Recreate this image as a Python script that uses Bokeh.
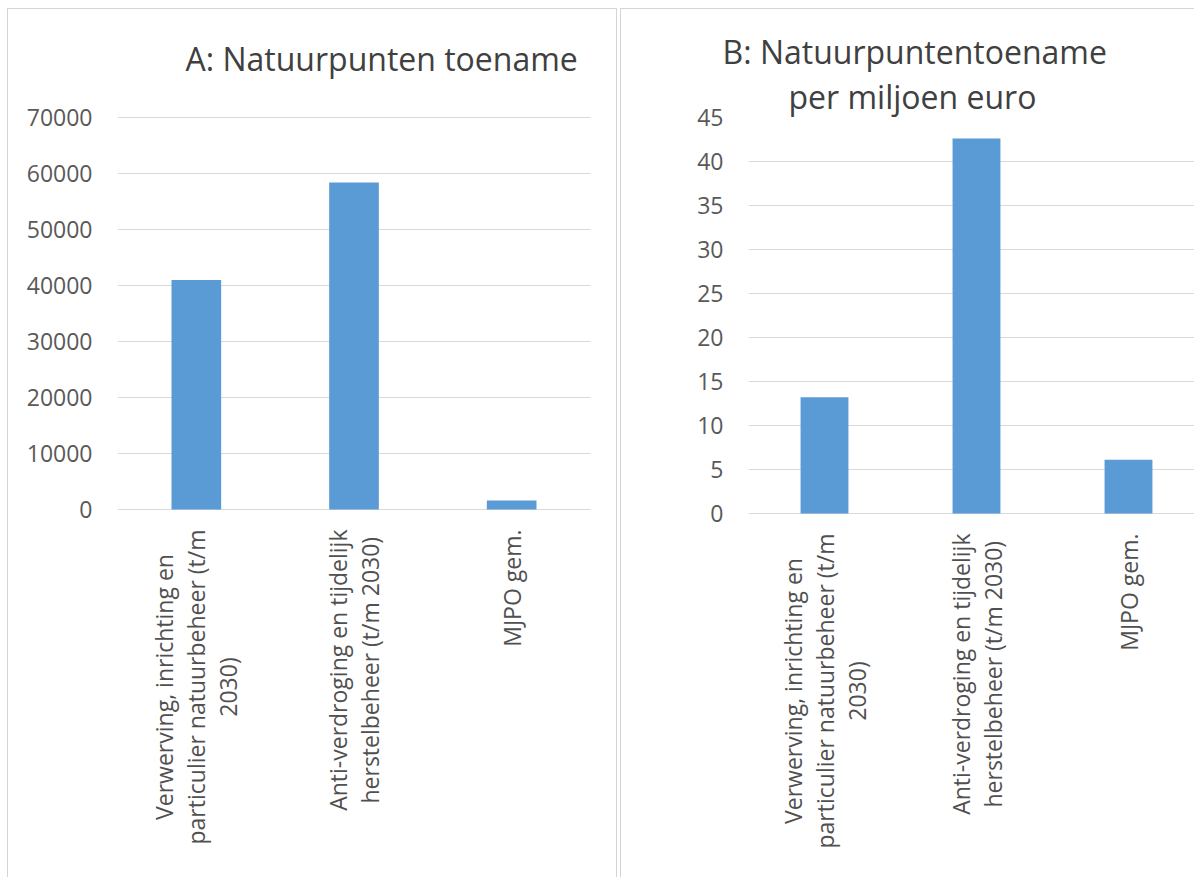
import numpy as np
from bokeh.plotting import figure
from bokeh.models import Range1d, FixedTicker, Title
from bokeh.layouts import row
from bokeh.core.properties import value
from bokeh.embed import file_html
from bokeh.resources import INLINE

# ---------------- data ----------------
categories = [
    "Verwerving, inrichting en\nparticulier natuurbeheer (t/m\n2030)",
    "Anti-verdroging en tijdelijk\nherstelbeheer (t/m 2030)",
    "MJPO gem.",
]
toename = [41000, 58400, 1600]            # A: Natuurpunten toename
per_miljoen = [13.2, 42.6, 6.1]           # B: per miljoen euro
ticks_a = [0, 10000, 20000, 30000, 40000, 50000, 60000, 70000]
ticks_b = [0, 5, 10, 15, 20, 25, 30, 35, 40, 45]
title_a = ["A: Natuurpunten toename"]
title_b = ["B: Natuurpuntentoename", "per miljoen euro"]

# ---------------- style ----------------
FONT = "Open Sans"
BAR = "#5B9BD5"
GRID = "#D9D9D9"
TICK = "#595959"
LABEL = "#505050"
TITLE = "#404040"
BORDER = "1px solid #D4D4D4"
H = 869


def panel(width, left, right, top, head_px, plot_h, ticks, cat_w, values, styles):
    # head_px: empty pixels of the frame above the highest tick
    ymax = ticks[-1]
    frame_h = H - top
    frame_w = width - left - right
    per_px = ymax / plot_h
    y_end = ymax + head_px * per_px
    y_start = y_end - frame_h * per_px
    xs = [i + 0.5 for i in range(len(categories))]
    p = figure(width=width, height=H, output_backend="svg", toolbar_location=None,
               title=None, x_axis_location=None, frame_align=False,
               x_range=Range1d(0, frame_w / cat_w), y_range=Range1d(y_start, y_end),
               min_border=0, min_border_left=left, min_border_right=right,
               min_border_top=top, min_border_bottom=0,
               background_fill_color="white", border_fill_color="white",
               outline_line_color=None, styles=styles)
    p.vbar(x=xs, top=values, width=0.315, fill_color=BAR, line_color=None)
    p.text(x=xs, y=[0] * len(xs), text=categories, angle=np.pi / 2,
           anchor=value("center_right"), text_align="center", text_baseline="middle",
           y_offset=20, text_font=value(FONT), text_font_size="23px",
           text_color=LABEL, text_line_height=1.0)
    ax = p.yaxis[0]
    ax.ticker = FixedTicker(ticks=ticks)
    ax.axis_line_color = None
    ax.major_tick_line_color = None
    ax.minor_tick_line_color = None
    ax.major_tick_out = 0
    ax.major_tick_in = 0
    ax.major_label_standoff = 25
    ax.major_label_text_font = FONT
    ax.major_label_text_font_size = "23px"
    ax.major_label_text_color = TICK
    p.ygrid.grid_line_color = GRID
    p.ygrid.grid_line_width = 1
    p.xgrid.visible = False
    return p


def add_titles(p, lines, offsets, standoffs):
    # the first line given is the one farthest from the plot
    for text, off, st in reversed(list(zip(lines, offsets, standoffs))):
        p.add_layout(Title(text=text, align="left", offset=off, standoff=st,
                           text_font=FONT, text_font_size="32px",
                           text_font_style="normal", text_color=TITLE), "above")


pa = panel(610, 109, 28, 90, 18, 392, ticks_a, 473 / 3, toename,
           {"border-left": BORDER, "border-top": BORDER, "border-right": BORDER})
add_titles(pa, title_a, [68], [40])

pb = panel(574, 127, 0, 108, 0, 396, ticks_b, 152, per_miljoen,
           {"border-left": BORDER, "border-top": BORDER})
add_titles(pb, title_b, [-26, 40], [0, 0])

layout = row(pa, pb, spacing=3, styles={"margin-left": "7px", "margin-top": "8px"})
open("out.html", "w").write(file_html(layout, INLINE))
